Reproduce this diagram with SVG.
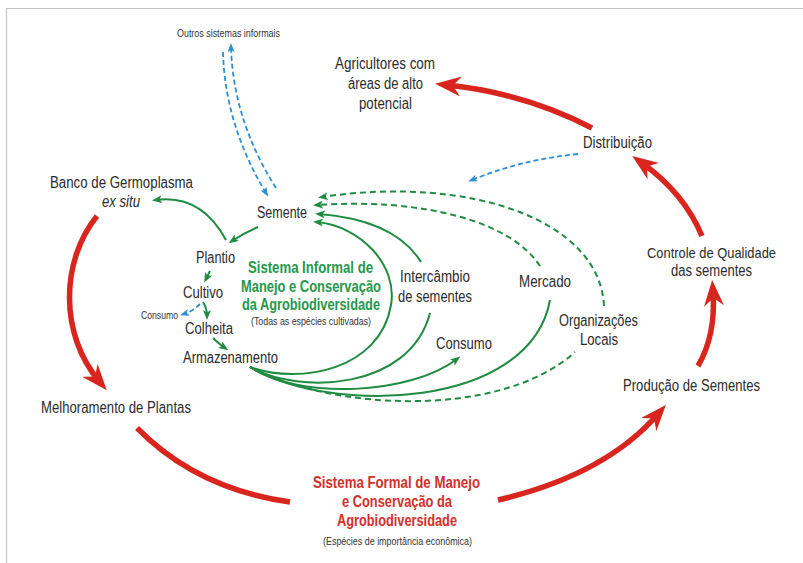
<svg xmlns="http://www.w3.org/2000/svg" width="803" height="563" viewBox="0 0 803 563">
<defs>
<style>
.t{font-family:"Liberation Sans",Arial,sans-serif;font-size:16px;fill:#2b2b2b}
.s{font-family:"Liberation Sans",Arial,sans-serif;font-size:10.5px;fill:#333}
.gt{font-family:"Liberation Sans",Arial,sans-serif;font-size:16px;font-weight:bold;fill:#23994a}
.rt{font-family:"Liberation Sans",Arial,sans-serif;font-size:16px;font-weight:bold;fill:#d2302a}
.red{fill:none;stroke:#d8261f;stroke-width:5.5}
.grn{fill:none;stroke:#1f8c42;stroke-width:2}
.gd{fill:none;stroke:#1f8c42;stroke-width:2;stroke-dasharray:6 4}
.bd{fill:none;stroke:#2a8fd6;stroke-width:1.8;stroke-dasharray:5 3}
</style>
<marker id="ar" markerUnits="userSpaceOnUse" markerWidth="26" markerHeight="20" refX="14" refY="10" orient="auto" viewBox="0 0 26 20">
<path d="M0,0 L26,10 L0,20 L8,10 Z" fill="#d8261f"/>
</marker>
<marker id="ag" markerUnits="userSpaceOnUse" markerWidth="10" markerHeight="8" refX="6" refY="4" orient="auto" viewBox="0 0 10 8">
<path d="M0,0 L10,4 L0,8 L2.5,4 Z" fill="#1f8c42"/>
</marker>
<marker id="ab" markerUnits="userSpaceOnUse" markerWidth="9" markerHeight="7" refX="5" refY="3.5" orient="auto" viewBox="0 0 9 7">
<path d="M0,0 L9,3.5 L0,7 L2,3.5 Z" fill="#2a8fd6"/>
</marker>
</defs>
<rect width="803" height="563" fill="#fff"/>
<path d="M6.5,563 L6.5,8.5 L803,8.5" fill="none" stroke="#c4c4c4" stroke-width="1.2"/>

<g id="connectors">
<path class="red" d="M592,128 Q525,93 447,85" marker-end="url(#ar)"/>
<path class="red" d="M702,236 Q684,193 642,163" marker-end="url(#ar)"/>
<path class="red" d="M698,366 Q716,335 713,292" marker-end="url(#ar)"/>
<path class="red" d="M498,500 Q605,475 658,414" marker-end="url(#ar)"/>
<path class="red" d="M137,428 Q197,489 290,502"/>
<path class="red" d="M97,216 C60,262 60,335 99,381" marker-end="url(#ar)"/>

<path class="grn" d="M226,240 Q201,194 156,200" marker-end="url(#ag)"/>
<path class="grn" d="M258,227 Q244,233 232,241" marker-end="url(#ag)"/>
<path class="grn" d="M210,271 L206,279" marker-end="url(#ag)"/>
<path class="grn" d="M203,302 Q207,308 207,316" marker-end="url(#ag)"/>
<path class="grn" d="M213,338 Q219,344 225,348" marker-end="url(#ag)"/>

<path class="grn" d="M250,367 C300,385 380,370 391,305 C398,265 360,226 317,222" marker-end="url(#ag)"/>
<path class="grn" d="M250,367 C300,395 410,390 430,313"/>
<path class="grn" d="M421,262 Q395,220 319,214" marker-end="url(#ag)"/>
<path class="grn" d="M250,367 C300,400 410,395 457,359" marker-end="url(#ag)"/>
<path class="grn" d="M250,367 C330,415 530,410 550,300"/>
<path class="gd" d="M250,367 C330,410 500,420 575,352"/>
<path class="gd" d="M540,266 C510,220 420,198 317,205" marker-end="url(#ag)"/>
<path class="gd" d="M604,306 C600,220 470,175 322,197" marker-end="url(#ag)"/>

<path class="bd" d="M223,52 Q225,125 266,193" marker-end="url(#ab)"/>
<path class="bd" d="M276,188 Q233,120 231,47" marker-end="url(#ab)"/>
<path class="bd" d="M578,154 Q520,160 472,180" marker-end="url(#ab)"/>
<path class="bd" d="M200,304 Q193,311 184,314" marker-end="url(#ab)"/>
</g>

<g id="outros"><text class="s" x="177" y="37" textLength="103" lengthAdjust="spacingAndGlyphs">Outros sistemas informais</text></g>
<g id="agricultores">
<text class="t" x="335" y="69" textLength="100" lengthAdjust="spacingAndGlyphs">Agricultores com</text>
<text class="t" x="348" y="89" textLength="75" lengthAdjust="spacingAndGlyphs">áreas de alto</text>
<text class="t" x="359" y="109" textLength="53" lengthAdjust="spacingAndGlyphs">potencial</text>
</g>
<g id="distribuicao"><text class="t" x="583" y="148" textLength="69" lengthAdjust="spacingAndGlyphs">Distribuição</text></g>
<g id="banco">
<text class="t" x="50" y="188" textLength="143" lengthAdjust="spacingAndGlyphs">Banco de Germoplasma</text>
<text class="t" x="102" y="207" textLength="38" lengthAdjust="spacingAndGlyphs" font-style="italic">ex situ</text>
</g>
<g id="semente"><text class="t" x="257" y="218" textLength="50" lengthAdjust="spacingAndGlyphs">Semente</text></g>
<g id="plantio"><text class="t" x="196" y="263" textLength="39" lengthAdjust="spacingAndGlyphs">Plantio</text></g>
<g id="cultivo"><text class="t" x="183" y="298" textLength="40" lengthAdjust="spacingAndGlyphs">Cultivo</text></g>
<g id="consumo-small"><text class="s" x="141" y="319" textLength="37" lengthAdjust="spacingAndGlyphs">Consumo</text></g>
<g id="colheita"><text class="t" x="185" y="334" textLength="48" lengthAdjust="spacingAndGlyphs">Colheita</text></g>
<g id="armazenamento"><text class="t" x="183" y="363" textLength="95" lengthAdjust="spacingAndGlyphs">Armazenamento</text></g>
<g id="sistema-informal">
<text class="gt" x="248" y="273" textLength="125" lengthAdjust="spacingAndGlyphs">Sistema Informal de</text>
<text class="gt" x="241" y="292" textLength="140" lengthAdjust="spacingAndGlyphs">Manejo e Conservação</text>
<text class="gt" x="242" y="310" textLength="138" lengthAdjust="spacingAndGlyphs">da Agrobiodiversidade</text>
<text class="s" x="251" y="325" textLength="120" lengthAdjust="spacingAndGlyphs">(Todas as espécies cultivadas)</text>
</g>
<g id="intercambio">
<text class="t" x="400" y="282" textLength="70" lengthAdjust="spacingAndGlyphs">Intercâmbio</text>
<text class="t" x="398" y="302" textLength="74" lengthAdjust="spacingAndGlyphs">de sementes</text>
</g>
<g id="mercado"><text class="t" x="519" y="287" textLength="52" lengthAdjust="spacingAndGlyphs">Mercado</text></g>
<g id="organizacoes">
<text class="t" x="559" y="326" textLength="79" lengthAdjust="spacingAndGlyphs">Organizações</text>
<text class="t" x="580" y="345" textLength="38" lengthAdjust="spacingAndGlyphs">Locais</text>
</g>
<g id="consumo"><text class="t" x="436" y="349" textLength="56" lengthAdjust="spacingAndGlyphs">Consumo</text></g>
<g id="controle">
<text class="t" x="647" y="258" style="font-size:14.5px" textLength="129" lengthAdjust="spacingAndGlyphs">Controle de Qualidade</text>
<text class="t" x="671" y="276" textLength="81" lengthAdjust="spacingAndGlyphs">das sementes</text>
</g>
<g id="producao"><text class="t" x="623" y="391" textLength="137" lengthAdjust="spacingAndGlyphs">Produção de Sementes</text></g>
<g id="melhoramento"><text class="t" x="41" y="413" textLength="150" lengthAdjust="spacingAndGlyphs">Melhoramento de Plantas</text></g>
<g id="sistema-formal">
<text class="rt" x="313" y="488" textLength="167" lengthAdjust="spacingAndGlyphs">Sistema Formal de Manejo</text>
<text class="rt" x="342" y="507" textLength="110" lengthAdjust="spacingAndGlyphs">e Conservação da</text>
<text class="rt" x="337" y="526" textLength="120" lengthAdjust="spacingAndGlyphs">Agrobiodiversidade</text>
<text class="s" x="323" y="545" textLength="149" lengthAdjust="spacingAndGlyphs">(Espécies de importância econômica)</text>
</g>
</svg>
